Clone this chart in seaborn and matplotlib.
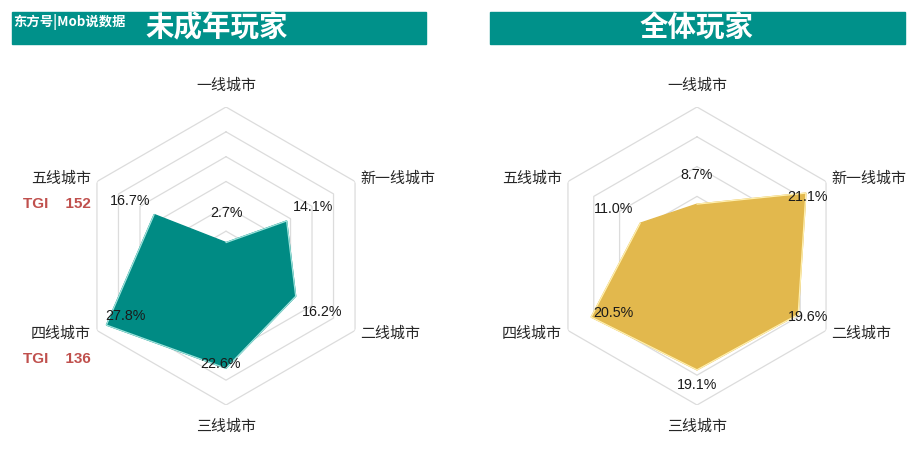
import numpy as np
import matplotlib
matplotlib.use("Agg")
import matplotlib.pyplot as plt
import seaborn as sns
from matplotlib.patches import Rectangle

# ---------------- data ----------------
categories = ["一线城市", "新一线城市", "二线城市", "三线城市", "四线城市", "五线城市"]
minor_values = [2.7, 14.1, 16.2, 22.6, 27.8, 16.7]
all_values = [8.7, 21.1, 19.6, 19.1, 20.5, 11.0]
tgi_labels = {"五线城市": "TGI    152", "四线城市": "TGI    136"}
left_title = "未成年玩家"
right_title = "全体玩家"
source_text = "东方号|Mob说数据"

sns.set_theme(style="white")
plt.rcParams["font.family"] = ["Liberation Sans", "Noto Sans CJK SC", "DejaVu Sans"]

W, H = 922, 466
fig = plt.figure(figsize=(W / 100, H / 100), dpi=100)

TEAL_BAR = "#00918A"
TEAL = "#008B84"
GOLD = "#E2B84D"
GRID = "#DCDCDC"
CJK = ["Noto Sans CJK SC", "DejaVu Sans"]

# title bars
for x0, x1 in [(12, 426), (490, 905)]:
    fig.patches.append(Rectangle((x0 / W, 1 - 44 / H), (x1 - x0) / W, 32 / H,
                                 transform=fig.transFigure, color=TEAL_BAR, zorder=0))
fig.text(217 / W, 1 - 28 / H, left_title, color="white", fontsize=20.5, fontweight="bold",
         ha="center", va="center", family=CJK)
fig.text(697 / W, 1 - 28 / H, right_title, color="white", fontsize=20.5, fontweight="bold",
         ha="center", va="center", family=CJK)
fig.text(13 / W, 1 - 22 / H, source_text, color="white", fontsize=9.6, fontweight="bold",
         ha="left", va="center", family=CJK)

n = len(categories)
theta = np.arange(n) * 2 * np.pi / n
theta_c = np.append(theta, theta[0])

# label offsets (pixels) relative to outer vertex
cat_offsets = [(0, 21, "center"), (5, 3, "left"), (5, -3, "left"),
               (0, -22, "center"), (-6, -3, "right"), (-6, 3, "right")]


def radar(cx, values, rmax, fill, edge, val_offsets, show_tgi):
    R = 149
    ax = fig.add_axes([(cx - R) / W, (H - 256 - R) / H, 2 * R / W, 2 * R / H], projection="polar")
    ax.set_theta_offset(np.pi / 2)
    ax.set_theta_direction(-1)
    ax.set_ylim(0, rmax)
    ax.grid(False)
    ax.spines["polar"].set_visible(False)
    ax.patch.set_alpha(0)
    for r in range(5, rmax + 1, 5):
        ax.plot(theta_c, [r] * (n + 1), color=GRID, lw=0.9, zorder=1)
    vals_c = np.append(values, values[0])
    ax.fill(theta_c, vals_c, color=fill, zorder=2)
    sns.lineplot(x=theta_c, y=vals_c, sort=False, ax=ax, color=edge, lw=0.9, zorder=3)
    ax.set_xlabel("")
    ax.set_ylabel("")
    ax.set_xticks([])
    ax.set_yticks([])
    for t, cat, (dx, dy, ha) in zip(theta, categories, cat_offsets):
        ax.annotate(cat, (t, rmax), xytext=(dx, dy), textcoords="offset pixels",
                    ha=ha, va="center", fontsize=10.8, color="#262626", family=CJK,
                    annotation_clip=False)
        if show_tgi and cat in tgi_labels:
            ax.annotate(tgi_labels[cat], (t, rmax), xytext=(dx, dy - 25), textcoords="offset pixels",
                        ha=ha, va="center", fontsize=11, fontweight="bold", color="#C0504D",
                        annotation_clip=False)
    for t, v, (dx, dy) in zip(theta, values, val_offsets):
        ax.annotate(f"{v:.1f}%", (t, v), xytext=(dx, dy), textcoords="offset pixels",
                    ha="center", va="center", fontsize=10.3, color="#1a1a1a", zorder=5,
                    annotation_clip=False)
    return ax


radar(226, minor_values, 30, TEAL, "#9FE3DC",
      [(0, 30), (26, 14), (26, -16), (-6, 4), (19, 9), (-24, 14)], True)
radar(697, all_values, 25, GOLD, "#FFF0B0",
      [(0, 29), (2, -4), (10, -3), (0, -15), (22, 4), (-27, 14)], False)

fig.savefig("out.png", dpi=100)
